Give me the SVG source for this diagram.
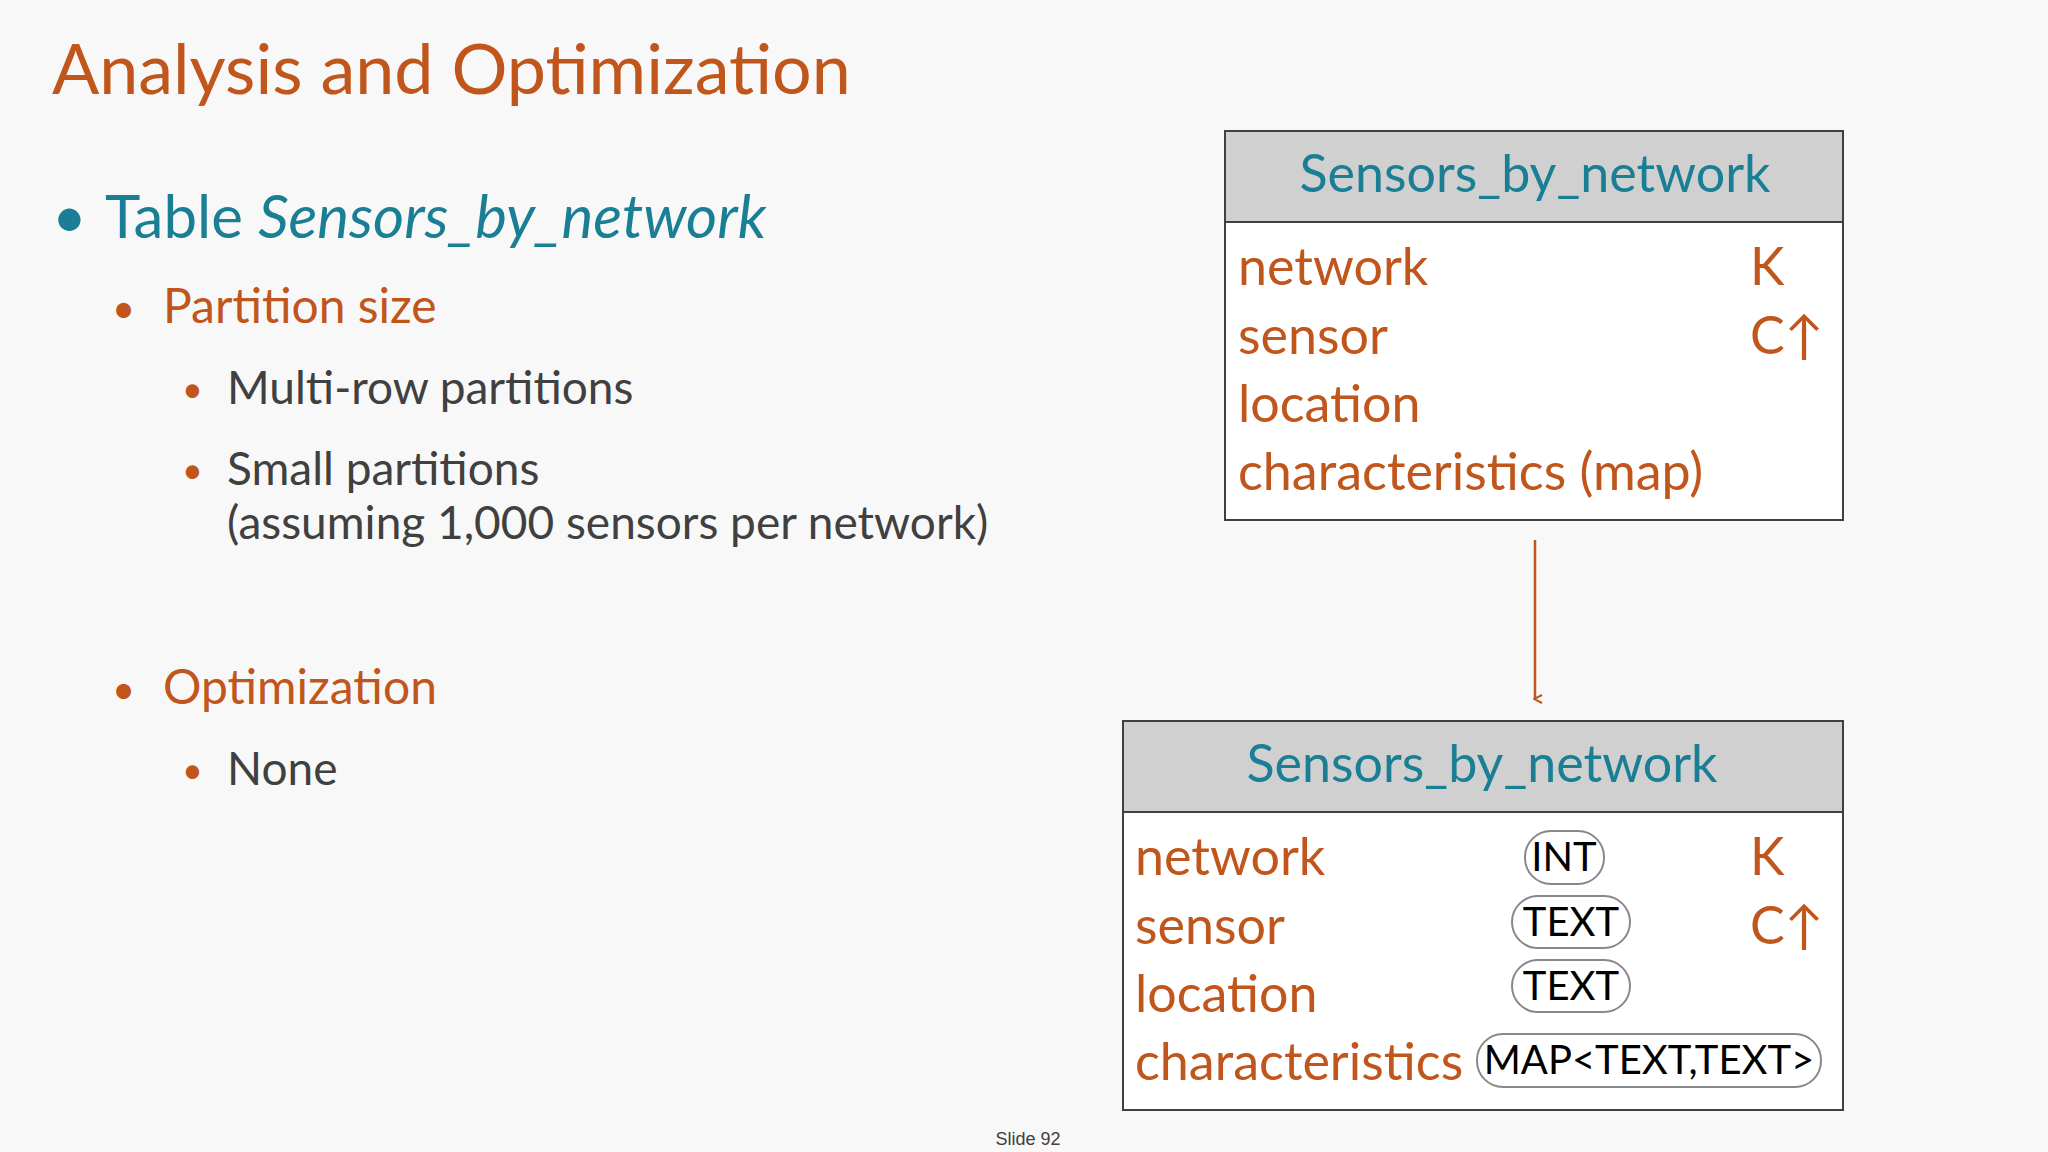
<svg xmlns="http://www.w3.org/2000/svg" width="2048" height="1152" viewBox="0 0 2048 1152">
<style>
.o{fill:#C0561B;font-family:Lato,"Open Sans",sans-serif}
.t{fill:#1A7F95;font-family:Lato,"Open Sans",sans-serif}
.g{fill:#404040;font-family:Lato,"Open Sans",sans-serif}
.row{font-size:52px}
.box{fill:#fff;stroke:#404040;stroke-width:2}
.hd{fill:#d0d0d0;stroke:#404040;stroke-width:2}
.pill{fill:#fff;stroke:#888;stroke-width:2}
.pt{fill:#000;font-family:Lato,"Open Sans",sans-serif;font-size:40px;text-anchor:middle}
</style>
<defs><marker id="ah" markerWidth="10" markerHeight="10" refX="5" refY="8" orient="auto" markerUnits="userSpaceOnUse"><path d="M1,1 L5,9 L9,1" fill="none" stroke="#C0561B" stroke-width="2"/></marker></defs>
<rect width="2048" height="1152" fill="#f8f8f8"/>
<text class="o" x="52" y="94" font-size="70">Analysis and Optimization</text>
<g id="bullets">
<text class="t" x="52" y="238" font-size="60">•</text>
<text class="t" x="105" y="238" font-size="60">Table <tspan font-style="italic">Sensors_by_network</tspan></text>
<text class="o" x="112" y="323" font-size="40">•</text>
<text class="o" x="163" y="323" font-size="48">Partition size</text>
<text class="o" x="182" y="402" font-size="36">•</text>
<text class="g" x="227" y="404" font-size="46">Multi-row partitions</text>
<text class="o" x="182" y="483" font-size="36">•</text>
<text class="g" x="227" y="485" font-size="46">Small partitions</text>
<text class="g" x="227" y="539" font-size="46">(assuming 1,000 sensors per network)</text>
<text class="o" x="112" y="704" font-size="40">•</text>
<text class="o" x="163" y="704" font-size="48">Optimization</text>
<text class="o" x="182" y="783" font-size="36">•</text>
<text class="g" x="227" y="785" font-size="46">None</text>
</g>
<g id="table1">
<rect class="box" x="1225" y="131" width="618" height="389"/>
<rect class="hd" x="1225" y="131" width="618" height="91"/>
<text class="t" x="1535" y="192" font-size="52" text-anchor="middle">Sensors_by_network</text>
<text class="o row" x="1238" y="285">network</text>
<text class="o row" x="1238" y="354">sensor</text>
<text class="o row" x="1238" y="422">location</text>
<text class="o row" x="1238" y="490">characteristics (map)</text>
<text class="o row" x="1750" y="285">K</text>
<text class="o row" x="1750" y="354">C↑</text>
</g>
<g id="connectors">
<line x1="1535" y1="540" x2="1535" y2="699" stroke="#C0561B" stroke-width="2.5" marker-end="url(#ah)"/>
</g>
<g id="table2">
<rect class="box" x="1123" y="721" width="720" height="389"/>
<rect class="hd" x="1123" y="721" width="720" height="91"/>
<text class="t" x="1482" y="782" font-size="52" text-anchor="middle">Sensors_by_network</text>
<text class="o row" x="1135" y="875">network</text>
<text class="o row" x="1135" y="944">sensor</text>
<text class="o row" x="1135" y="1012">location</text>
<text class="o row" x="1135" y="1080">characteristics</text>
<text class="o row" x="1750" y="875">K</text>
<text class="o row" x="1750" y="944">C↑</text>
<rect class="pill" x="1525" y="831" width="79" height="53" rx="26"/>
<text class="pt" x="1564" y="871">INT</text>
<rect class="pill" x="1512" y="896" width="118" height="52" rx="26"/>
<text class="pt" x="1571" y="936">TEXT</text>
<rect class="pill" x="1512" y="960" width="118" height="52" rx="26"/>
<text class="pt" x="1571" y="1000">TEXT</text>
<rect class="pill" x="1477" y="1034" width="344" height="53" rx="26"/>
<text class="pt" x="1649" y="1074">MAP&lt;TEXT,TEXT&gt;</text>
</g>
<text x="1028" y="1145" font-family="Liberation Sans,sans-serif" font-size="18" fill="#404040" text-anchor="middle">Slide 92</text>
</svg>
